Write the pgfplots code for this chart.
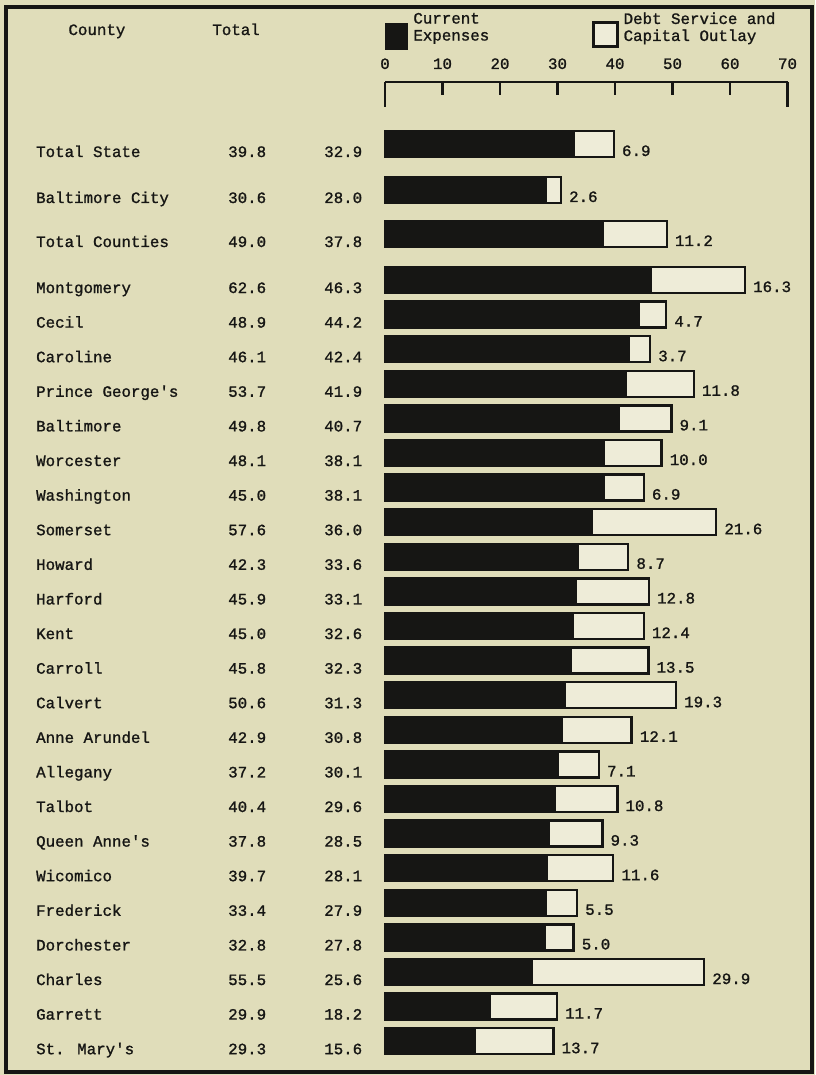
\documentclass[border=0pt]{standalone}
\usepackage{pgfplots}
\pgfplotsset{compat=1.18}
\usepackage{pgfplotstable}
\usepackage{fontspec}
\setmainfont{Liberation Mono}[Ligatures=TeXOff, FakeBold=1.2, BoldFont={Liberation Mono}, BoldFeatures={FakeBold=2}]
\definecolor{bg}{RGB}{224,221,186}
\definecolor{lite}{RGB}{238,236,216}
\definecolor{ink}{RGB}{22,22,20}
\newcommand\tf{\fontsize{15.8}{17}\selectfont}

\pgfplotstableread{
y name total cur debt
144 {Total State} 39.8 32.9 6.9
190 {Baltimore City} 30.6 28.0 2.6
234 {Total Counties} 49.0 37.8 11.2
280 Montgomery 62.6 46.3 16.3
314.6 Cecil 48.9 44.2 4.7
349.2 Caroline 46.1 42.4 3.7
383.8 {Prince George's} 53.7 41.9 11.8
418.4 Baltimore 49.8 40.7 9.1
453 Worcester 48.1 38.1 10.0
487.6 Washington 45.0 38.1 6.9
522.2 Somerset 57.6 36.0 21.6
556.8 Howard 42.3 33.6 8.7
591.4 Harford 45.9 33.1 12.8
626 Kent 45.0 32.6 12.4
660.6 Carroll 45.8 32.3 13.5
695.2 Calvert 50.6 31.3 19.3
729.8 {Anne Arundel} 42.9 30.8 12.1
764.4 Allegany 37.2 30.1 7.1
799 Talbot 40.4 29.6 10.8
833.6 {Queen Anne's} 37.8 28.5 9.3
868.2 Wicomico 39.7 28.1 11.6
902.8 Frederick 33.4 27.9 5.5
937.4 Dorchester 32.8 27.8 5.0
972 Charles 55.5 25.6 29.9
1006.6 Garrett 29.9 18.2 11.7
1041.2 {St. Mary's} 29.3 15.6 13.7
}\data

\begin{document}
\begin{tikzpicture}
\fill[bg] (0,0) rectangle (815pt,1075pt);
\begin{axis}[at={(0pt,0pt)}, anchor=south west, scale only axis,
  width=815pt, height=1075pt,
  xmin=-66.9565, xmax=74.7826, ymin=0, ymax=1075, y dir=reverse,
  axis lines=none, clip=false, font=\tf,
  reverse legend, legend columns=2,
  legend style={at={(axis cs:0,12.5)}, anchor=north west, draw=none, fill=none,
    inner sep=0pt, outer sep=0pt, row sep=0pt, column sep=5pt,
    nodes={inner sep=0pt, align=left, anchor=west, text=ink},
    font=\tf, /tikz/every even column/.append style={column sep=103pt}}]

\addplot[xbar, bar width=26pt, bar shift=0pt, fill=lite, draw=ink, line width=2.4pt,
  point meta=explicit symbolic, nodes near coords,
  nodes near coords style={anchor=base west, inner sep=0pt, xshift=7pt, yshift=-12pt, text=ink, font=\tf},
  legend image code/.code={\draw[fill=lite, draw=ink, line width=2.4pt] (0pt,-19pt) rectangle (24pt,5pt);}]
  table[x=total, y=y, meta=debt] {\data};
\addlegendentry{Debt Service and\\Capital Outlay}

\addplot[xbar, bar width=26pt, bar shift=0pt, fill=ink, draw=ink, line width=2.4pt,
  legend image code/.code={\draw[fill=ink, draw=ink, line width=2.4pt] (0pt,-21pt) rectangle (21pt,3pt);}]
  table[x=cur, y=y] {\data};
\addlegendentry{Current\\Expenses}

\addplot[draw=none, mark=none, forget plot, point meta=explicit symbolic, nodes near coords,
  nodes near coords style={anchor=base west, inner sep=0pt, yshift=-13pt, text=ink, font=\tf}]
  table[x expr=-60.7, y=y, meta=name] {\data};
\addplot[draw=none, mark=none, forget plot, point meta=explicit symbolic, nodes near coords,
  nodes near coords style={anchor=base west, inner sep=0pt, yshift=-13pt, text=ink, font=\tf}]
  table[x expr=-27.3, y=y, meta=total] {\data};
\addplot[draw=none, mark=none, forget plot, point meta=explicit symbolic, nodes near coords,
  nodes near coords style={anchor=base west, inner sep=0pt, yshift=-13pt, text=ink, font=\tf}]
  table[x expr=-10.6, y=y, meta=cur] {\data};

\node[anchor=base, inner sep=0pt, text=ink, font=\tf] at (axis cs:-50.1,35) {County};
\node[anchor=base, inner sep=0pt, text=ink, font=\tf] at (axis cs:-25.9,35) {Total};
\end{axis}

\begin{axis}[at={(385pt,993pt)}, anchor=north west, scale only axis,
  width=402.5pt, height=25pt, xmin=0, xmax=70, ymin=0, ymax=1,
  axis x line*=top, axis y line*=box,
  xtick={0,10,...,70}, ytick=\empty, xtick pos=upper, xticklabel pos=upper,
  tick align=inside, major tick length=13pt,
  axis line style={line width=2.6pt, draw=ink, -},
  every tick/.style={line width=2.4pt, draw=ink},
  xticklabel style={anchor=base, yshift=13pt, inner sep=0pt, font=\tf, text=ink},
  /pgf/number format/assume math mode=true]
\end{axis}

\draw[ink, line width=4pt] (5.5pt,3pt) rectangle (811.5pt,1068pt);
\end{tikzpicture}
\end{document}
